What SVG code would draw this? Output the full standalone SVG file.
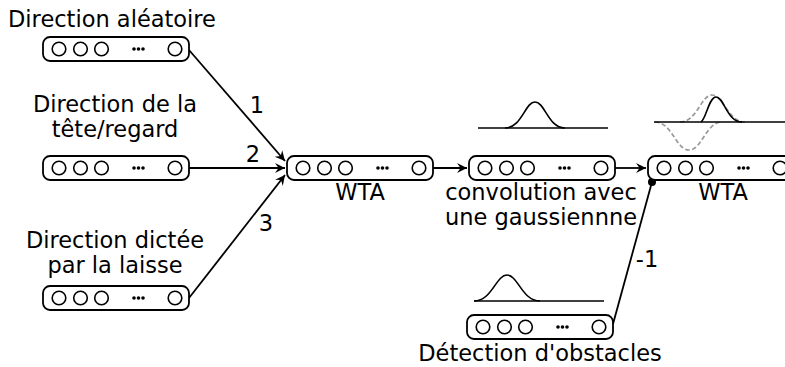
<svg xmlns="http://www.w3.org/2000/svg" width="785" height="367" viewBox="0 0 785 367">
<style>
.box{fill:#fff;stroke:#000;stroke-width:1.8}
.neu{fill:#fff;stroke:#000;stroke-width:1.6}
.dot{fill:#000}
.t{font-family:"DejaVu Sans",sans-serif;font-size:22.5px;fill:#000;text-anchor:middle}
.ln{fill:none;stroke:#000;stroke-width:1.8}
.g{fill:none;stroke:#000;stroke-width:1.6}
.gd{fill:none;stroke:#999;stroke-width:1.7;stroke-dasharray:4.5,2.5}
</style>
<defs>
<marker id="arr" viewBox="-10 -6 12 12" refX="0" refY="0" markerWidth="12" markerHeight="12" markerUnits="userSpaceOnUse" orient="auto">
<path d="M0,0 L-10,-5 L-6.5,0 L-10,5 Z" fill="#000"/>
</marker>
<g id="layer">
<rect class="box" x="0" y="0" width="146" height="24" rx="7"/>
<circle class="neu" cx="16" cy="12" r="6.8"/>
<circle class="neu" cx="37.5" cy="12" r="6.8"/>
<circle class="neu" cx="58.5" cy="12" r="6.8"/>
<circle class="dot" cx="91" cy="12" r="1.8"/>
<circle class="dot" cx="95.5" cy="12" r="1.8"/>
<circle class="dot" cx="100" cy="12" r="1.8"/>
<circle class="neu" cx="132" cy="12" r="6.8"/>
</g>
</defs>

<g id="connectors">
<path class="ln" d="M189,50 L285,161" marker-end="url(#arr)"/>
<path class="ln" d="M189,168 L285,168" marker-end="url(#arr)"/>
<path class="ln" d="M189,298 L285,175" marker-end="url(#arr)"/>
<path class="ln" d="M433,168 L467,168" marker-end="url(#arr)"/>
<path class="ln" d="M615,168 L646,168" marker-end="url(#arr)"/>
<path class="ln" d="M613,324 L652,182"/>
<circle cx="652" cy="182" r="4" fill="#000"/>
<text class="t" x="257" y="113">1</text>
<text class="t" x="253" y="162">2</text>
<text class="t" x="266" y="231">3</text>
<text class="t" x="647" y="267">-1</text>
</g>

<g id="n-aleatoire">
<text class="t" x="112" y="27">Direction aléatoire</text>
<use href="#layer" x="43" y="37"/>
</g>

<g id="n-tete">
<text class="t" x="115" y="112">Direction de la</text>
<text class="t" x="115" y="137">tête/regard</text>
<use href="#layer" x="43" y="156"/>
</g>

<g id="n-laisse">
<text class="t" x="115" y="248">Direction dictée</text>
<text class="t" x="115" y="273">par la laisse</text>
<use href="#layer" x="43" y="286"/>
</g>

<g id="n-wta1">
<use href="#layer" x="287" y="156"/>
<text class="t" x="360" y="200">WTA</text>
</g>

<g id="n-conv">
<path class="g" d="M478,128 L608,128"/>
<path class="g" d="M505,128 C522,128 525,102 535,102 C545,102 548,128 565,128"/>
<use href="#layer" x="469" y="156"/>
<text class="t" x="541" y="200">convolution avec</text>
<text class="t" x="541" y="225">une gaussiennne</text>
</g>

<g id="n-wta2">
<path class="gd" d="M655,122 C672,122 676,150 689,150 C702,150 706,122 722,122"/>
<path class="gd" d="M680,122 C697,122 701,95 712,95 C723,95 728,122 745,122"/>
<path class="g" d="M654,122 L785,122"/>
<path class="g" d="M701,122 C706,119 709,97 716,97 C724,97 727,122 742,122"/>
<use href="#layer" x="648" y="156"/>
<text class="t" x="723" y="200">WTA</text>
</g>

<g id="n-obstacles">
<path class="g" d="M474,301 L604,301"/>
<path class="g" d="M474,301 C492,301 496,275 507,275 C518,275 522,301 540,301"/>
<use href="#layer" x="467" y="315"/>
<text class="t" x="540" y="361">Détection d'obstacles</text>
</g>
</svg>
